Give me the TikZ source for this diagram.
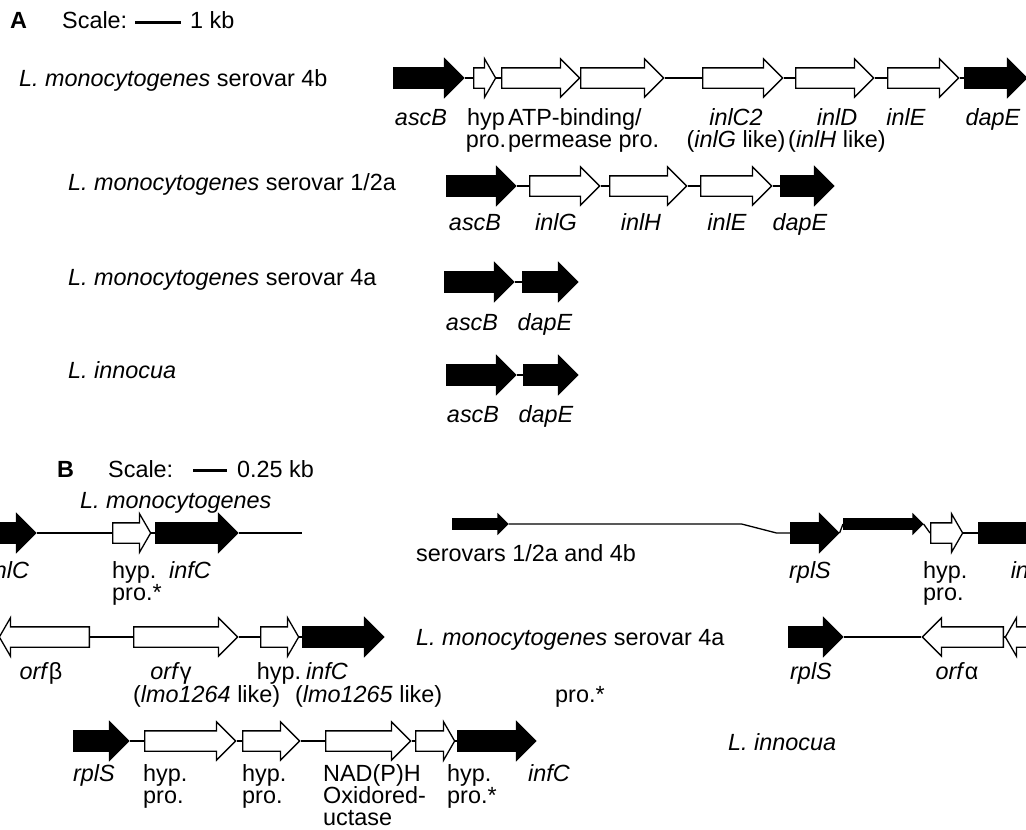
\documentclass[tikz,border=0pt]{standalone}
\usepackage{fontspec}
\setmainfont{Liberation Sans}
\usetikzlibrary{shapes.arrows}
\tikzset{
    gene/.style={single arrow, draw, line width=1.3pt, inner sep=0pt, inner ysep=9.5pt,
        single arrow head extend=9pt, minimum width=0pt, anchor=tail}, % gene body
    blackgene/.style={gene, fill=black}, % flanking gene
    whitegene/.style={gene, fill=white}, % inserted gene
    thingene/.style={blackgene, inner ysep=4.5pt, single arrow head extend=4.5pt}, % half-height gene
    blunt/.style={single arrow tip angle=120}, % short head for small genes
    backward/.style={shape border rotate=180}, % gene on the other strand
    link/.style={line width=1.3pt},
    lab/.style={inner sep=0pt, anchor=base, align=center}, % base = last line
    leftlab/.style={inner sep=0pt, anchor=base west, align=left},
    scalebar/.style={line width=3pt}
}
\newcommand{\gn}[1]{\textit{#1}}

\begin{document}
\begin{tikzpicture}[x=1pt, y=-1pt, font=\fontsize{23.4}{22}\selectfont]
    \useasboundingbox (0,0) rectangle (1026,830);

    % panel A
    \node[leftlab] (pA) at (10,28) {\textbf{A}};
    \node[leftlab] (scaleA) at (62,28) {Scale:};
    \draw[scalebar] (135,22) -- (181,22);
    \node[leftlab] (kbA) at (190,28) {1 kb};

    \node[leftlab] (t4b) at (19,86) {\gn{L. monocytogenes} serovar 4b};
    \node[blackgene, minimum height=70] (ascBa) at (393,78) {};
    \node[whitegene, blunt, minimum height=22] (hypa) at (473,78) {};
    \node[whitegene, minimum height=78] (atpa) at (501,78) {};
    \node[whitegene, minimum height=83] (perma) at (580,78) {};
    \node[whitegene, minimum height=80] (inlCtwo) at (702,78) {};
    \node[whitegene, minimum height=78] (inlDa) at (795,78) {};
    \node[whitegene, minimum height=71] (inlEa) at (887,78) {};
    \node[blackgene, minimum height=62] (dapEa) at (964,78) {};
    \foreach \a/\b in {ascBa/hypa, hypa/atpa, perma/inlCtwo, inlCtwo/inlDa, inlDa/inlEa, inlEa/dapEa}
        \draw[link] (\a.tip) -- (\b.tail);
    \node[lab] (lascBa) at (421,125) {\gn{ascB}};
    \node[lab] (lhypa) at (486,147) {hyp\\pro.};
    \node[leftlab] (latpa) at (508,147) {ATP-binding/\\permease pro.};
    \node[lab] (linlCtwo) at (736,147) {\gn{inlC2}\\(\gn{inlG} like)};
    \node[lab] (linlDa) at (837,147) {\gn{inlD}\\(\gn{inlH} like)};
    \node[lab] (linlEa) at (906,125) {\gn{inlE}};
    \node[lab] (ldapEa) at (993,125) {\gn{dapE}};

    \node[leftlab] (t12a) at (68,190) {\gn{L. monocytogenes} serovar 1/2a};
    \node[blackgene, minimum height=69] (ascBb) at (446,186) {};
    \node[whitegene, minimum height=70] (inlGb) at (529,186) {};
    \node[whitegene, minimum height=77] (inlHb) at (609,186) {};
    \node[whitegene, minimum height=71] (inlEb) at (700,186) {};
    \node[blackgene, minimum height=53] (dapEb) at (780,186) {};
    \foreach \a/\b in {ascBb/inlGb, inlGb/inlHb, inlHb/inlEb, inlEb/dapEb}
        \draw[link] (\a.tip) -- (\b.tail);
    \node[lab] (lascBb) at (475,230) {\gn{ascB}};
    \node[lab] (linlGb) at (556,230) {\gn{inlG}};
    \node[lab] (linlHb) at (641,230) {\gn{inlH}};
    \node[lab] (linlEb) at (727,230) {\gn{inlE}};
    \node[lab] (ldapEb) at (800,230) {\gn{dapE}};

    \node[leftlab] (t4a) at (68,285) {\gn{L. monocytogenes} serovar 4a};
    \node[blackgene, minimum height=69] (ascBc) at (444,282) {};
    \node[blackgene, minimum height=55] (dapEc) at (522,282) {};
    \draw[link] (ascBc.tip) -- (dapEc.tail);
    \node[lab] (lascBc) at (472,330) {\gn{ascB}};
    \node[lab] (ldapEc) at (545,330) {\gn{dapE}};

    \node[leftlab] (tinn) at (68,378) {\gn{L. innocua}};
    \node[blackgene, minimum height=69] (ascBd) at (446,375) {};
    \node[blackgene, minimum height=54] (dapEd) at (523,375) {};
    \draw[link] (ascBd.tip) -- (dapEd.tail);
    \node[lab] (lascBd) at (473,422) {\gn{ascB}};
    \node[lab] (ldapEd) at (546,422) {\gn{dapE}};

    % panel B
    \node[leftlab] (pB) at (57,477) {\textbf{B}};
    \node[leftlab] (scaleB) at (108,477) {Scale:};
    \draw[scalebar] (193,470) -- (227,470);
    \node[leftlab] (kbB) at (237,477) {0.25 kb};

    \node[leftlab] (tmono) at (80,508) {\gn{L. monocytogenes}};
    \node[leftlab] (tsero) at (416,561) {serovars 1/2a and 4b};
    \node[blackgene, minimum height=85] (inlCl) at (-50,533) {};
    \node[whitegene, blunt, minimum height=38] (hypst) at (112,533) {};
    \node[blackgene, minimum height=82] (infCe) at (155,533) {};
    \coordinate (endE) at (302,533);
    \node[thingene, minimum height=55] (blkE) at (452,524) {};
    \node[blackgene, minimum height=48] (rplSe) at (790,533) {};
    \node[thingene, minimum height=79] (blkF) at (843,524) {};
    \node[whitegene, blunt, minimum height=32] (hype) at (930,533) {};
    \node[blackgene, minimum height=85] (inlCr) at (978,533) {};
    \foreach \a/\b in {inlCl/hypst, hypst/infCe, rplSe/blkF, blkF/hype, hype/inlCr}
        \draw[link] (\a.tip) -- (\b.tail);
    \draw[link] (infCe.tip) -- (endE);
    \draw[link] (blkE.tip) -- ++(233,0) -- ++(35,9) -- (rplSe.tail);
    \node[lab] (linlCl) at (9,578) {\gn{inlC}};
    \node[leftlab] (lhypst) at (112,600) {hyp.\\pro.*};
    \node[lab] (linfCe) at (190,578) {\gn{infC}};
    \node[lab] (lrplSe) at (810,578) {\gn{rplS}};
    \node[leftlab] (lhype) at (923,600) {hyp.\\pro.};
    \node[lab] (linlCr) at (1031,578) {\gn{inlC}};

    \node[leftlab] (t4aB) at (416,645) {\gn{L. monocytogenes} serovar 4a};
    \node[whitegene, backward, blunt, minimum height=90] (orfb) at (90,637) {};
    \node[whitegene, minimum height=104] (orfg) at (133,637) {};
    \node[whitegene, blunt, minimum height=38] (hypf) at (260,637) {};
    \node[blackgene, minimum height=81] (infCf) at (302,637) {};
    \node[blackgene, minimum height=54] (rplSf) at (788,637) {};
    \node[whitegene, backward, minimum height=81] (orfa) at (1004,637) {};
    \node[whitegene, backward, blunt, minimum height=64] (orfx) at (1070,637) {};
    \draw[link] (orfb.tail) -- (orfg.tail);
    \draw[link] (orfg.tip) -- (hypf.tail);
    \draw[link] (hypf.tip) -- (infCf.tail);
    \draw[link] (rplSf.tip) -- (orfa.tip);
    \draw[link] (orfa.tail) -- (orfx.tip);
    \node[lab] (lorfb) at (41,679) {\gn{orf}β};
    \node[lab] (lorfg) at (171,679) {\gn{orf}γ};
    \node[lab] (lhypf) at (279,679) {hyp.};
    \node[lab] (linfCf) at (327,679) {\gn{infC}};
    \node[leftlab] (llmoa) at (133,702) {(\gn{lmo1264} like)};
    \node[leftlab] (llmob) at (295,702) {(\gn{lmo1265} like)};
    \node[leftlab] (lprof) at (555,702) {pro.*};
    \node[lab] (lrplSf) at (811,679) {\gn{rplS}};
    \node[lab] (lorfa) at (957,679) {\gn{orf}α};

    \node[leftlab] (tinnB) at (728,750) {\gn{L. innocua}};
    \node[blackgene, minimum height=55] (rplSg) at (73,741) {};
    \node[whitegene, minimum height=91] (hypg) at (144,741) {};
    \node[whitegene, minimum height=57] (hyph) at (242,741) {};
    \node[whitegene, minimum height=85] (nadph) at (325,741) {};
    \node[whitegene, blunt, minimum height=39] (hypi) at (415,741) {};
    \node[blackgene, minimum height=78] (infCg) at (457,741) {};
    \foreach \a/\b in {rplSg/hypg, hypg/hyph, hyph/nadph, nadph/hypi, hypi/infCg}
        \draw[link] (\a.tip) -- (\b.tail);
    \node[lab] (lrplSg) at (94,781) {\gn{rplS}};
    \node[leftlab] (lhypg) at (143,803) {hyp.\\pro.};
    \node[leftlab] (lhyph) at (242,803) {hyp.\\pro.};
    \node[leftlab] (lnadph) at (323,825) {NAD(P)H\\Oxidored-\\uctase};
    \node[leftlab] (lhypi) at (447,803) {hyp.\\pro.*};
    \node[lab] (linfCg) at (549,781) {\gn{infC}};
\end{tikzpicture}
\end{document}
